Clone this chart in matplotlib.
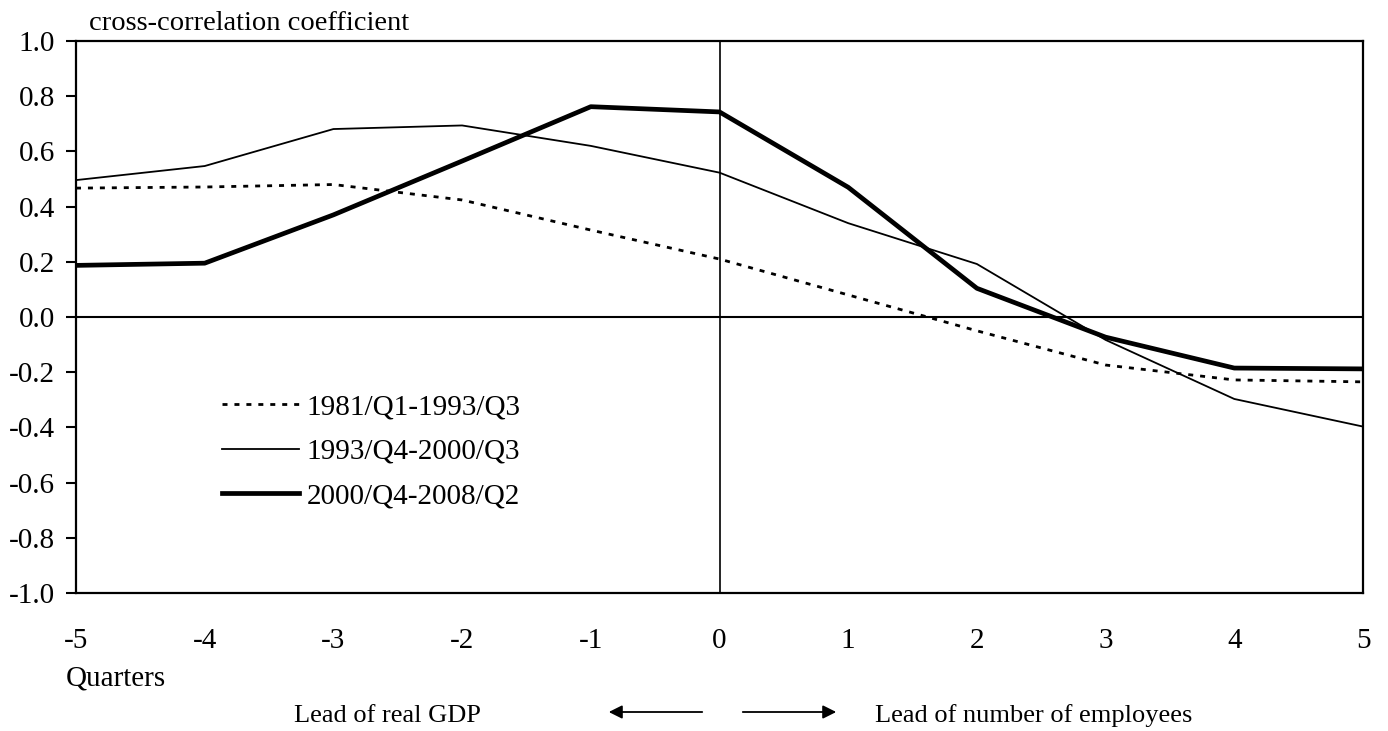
import matplotlib
matplotlib.use("Agg")
import matplotlib.pyplot as plt
from matplotlib.patches import FancyArrowPatch

plt.rcParams['font.family'] = ['Liberation Serif', 'DejaVu Serif']

quarters = [-5, -4, -3, -2, -1, 0, 1, 2, 3, 4, 5]
s1981 = [0.467, 0.471, 0.48, 0.424, 0.315, 0.21, 0.08, -0.05, -0.174, -0.228, -0.235]
s1993 = [0.496, 0.547, 0.681, 0.694, 0.62, 0.523, 0.34, 0.192, -0.083, -0.297, -0.397]
s2000 = [0.187, 0.195, 0.37, 0.565, 0.762, 0.743, 0.47, 0.104, -0.073, -0.185, -0.188]
labels = ["1981/Q1-1993/Q3", "1993/Q4-2000/Q3", "2000/Q4-2008/Q2"]
yticks = [-1.0, -0.8, -0.6, -0.4, -0.2, 0.0, 0.2, 0.4, 0.6, 0.8, 1.0]

W, H = 1388, 731
fig = plt.figure(figsize=(W/100, H/100), dpi=100)
L, R, T, B = 76, 1363, 41, 593
ax = fig.add_axes([L/W, 1-B/H, (R-L)/W, (B-T)/H])

ax.axhline(0, color='black', lw=1.5, zorder=1)
ax.axvline(0, color='black', lw=1.2, zorder=1)

ax.plot(quarters, s1981, color='black', lw=2.0, linestyle=(0, (1.8, 2.5)), label=labels[0])
ax.plot(quarters, s1993, color='black', lw=1.3, label=labels[1])
ax.plot(quarters, s2000, color='black', lw=3.4, label=labels[2])

ax.set_xlim(-5, 5)
ax.set_ylim(-1.0, 1.0)
ax.set_yticks(yticks)
ax.set_yticklabels([f"{v:.1f}" for v in yticks], fontsize=21)
ax.set_xticks(quarters)
ax.set_xticklabels([str(q) for q in quarters], fontsize=21)
ax.tick_params(axis='y', direction='out', length=7, width=1.5, pad=8)
ax.tick_params(axis='x', length=0, pad=25)
for sp in ax.spines.values():
    sp.set_linewidth(1.6)

leg = ax.legend(loc='upper left', bbox_to_anchor=((222-L)/(R-L), 1-(394-T)/(B-T)), frameon=False,
                fontsize=21, handlelength=2.65, handletextpad=0.25, labelspacing=0.62,
                borderaxespad=0, borderpad=0)

fig.text(89/W, 1-24/H, "cross-correlation coefficient", fontsize=20.5, va='center', ha='left')
fig.text(66/W, 1-678/H, "Quarters", fontsize=21, va='center', ha='left')
fig.text(387/W, 1-716/H, "Lead of real GDP", fontsize=19, va='center', ha='center')
fig.text(875/W, 1-716/H, "Lead of number of employees", fontsize=19, va='center', ha='left')

fig.patches.append(FancyArrowPatch((705/W, 1-712/H), (606/W, 1-712/H),
                   transform=fig.transFigure, arrowstyle='-|>', mutation_scale=20, lw=1.3, color='black'))
fig.patches.append(FancyArrowPatch((740/W, 1-712/H), (839/W, 1-712/H),
                   transform=fig.transFigure, arrowstyle='-|>', mutation_scale=20, lw=1.3, color='black'))

fig.savefig("out.png", dpi=100)
